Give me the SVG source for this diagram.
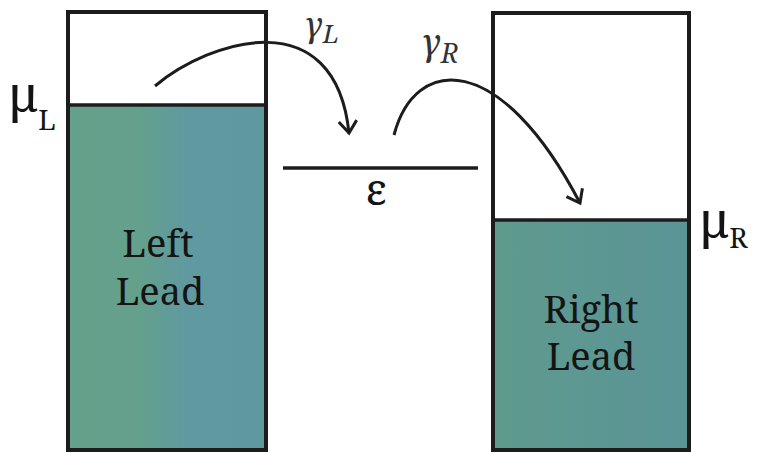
<svg xmlns="http://www.w3.org/2000/svg" width="758" height="453" viewBox="0 0 758 453">
<style>
.box{fill:none;stroke:#1c1c1c;stroke-width:4}
.fill{stroke:none}
.lvl{stroke:#1c1c1c;stroke-width:3.5}
.lbl{fill:#141414;font-family:"Noto Serif","DejaVu Serif",serif}
.it{font-style:italic;fill:#333;font-family:"Noto Serif","DejaVu Serif",serif}
.arc{fill:none;stroke:#1c1c1c;stroke-width:3}
</style>
<defs>
<linearGradient id="gl" x1="0" y1="0" x2="1" y2="0">
<stop offset="0" stop-color="#65a08a"/><stop offset="0.35" stop-color="#64a08c"/><stop offset="0.6" stop-color="#6099a0"/><stop offset="1" stop-color="#6198a0"/>
</linearGradient>
<linearGradient id="gr" x1="0" y1="0" x2="1" y2="0">
<stop offset="0" stop-color="#5f9a8e"/><stop offset="1" stop-color="#5b9496"/>
</linearGradient>
<marker id="ah" markerUnits="userSpaceOnUse" markerWidth="30" markerHeight="30" refX="0" refY="0" viewBox="-15 -15 30 30" orient="auto">
<path d="M-12,-9 L0,0 L-12,9" fill="none" stroke="#1c1c1c" stroke-width="3"/>
</marker>
</defs>
<rect width="758" height="453" fill="#ffffff"/>
<g id="left-lead">
<rect class="fill" x="68" y="105" width="198" height="345" fill="url(#gl)"/>
<rect class="box" x="68" y="12" width="198" height="438"/>
<line class="lvl" x1="68" y1="105" x2="266" y2="105"/>
<text class="lbl" x="158" y="257" font-size="38" text-anchor="middle">Left</text>
<text class="lbl" x="160" y="305" font-size="38" text-anchor="middle">Lead</text>
<text class="lbl" x="9" y="112" font-size="50">μ<tspan font-size="28" dy="18">L</tspan></text>
</g>
<g id="right-lead">
<rect class="fill" x="493" y="220" width="196" height="230" fill="url(#gr)"/>
<rect class="box" x="493" y="13" width="196" height="437"/>
<line class="lvl" x1="493" y1="220" x2="689" y2="220"/>
<text class="lbl" x="591" y="323" font-size="38" text-anchor="middle">Right</text>
<text class="lbl" x="591" y="370" font-size="38" text-anchor="middle">Lead</text>
<text class="lbl" x="700" y="238" font-size="50">μ<tspan font-size="28" dy="10">R</tspan></text>
</g>
<g id="dot-level">
<line class="lvl" x1="283" y1="168" x2="478" y2="168"/>
<text class="lbl" x="376" y="205" font-size="43" text-anchor="middle">ε</text>
</g>
<g id="connectors">
<path class="arc" d="M155,86 C210,40 335,0 349,133" marker-end="url(#ah)"/>
<path class="arc" d="M394,135 C415,55 500,50 580,203" marker-end="url(#ah)"/>
<text class="it" x="304" y="37" font-size="34">γ<tspan font-size="26" dy="6">L</tspan></text>
<text class="it" x="421" y="55" font-size="36">γ<tspan font-size="27" dy="8">R</tspan></text>
</g>
</svg>
